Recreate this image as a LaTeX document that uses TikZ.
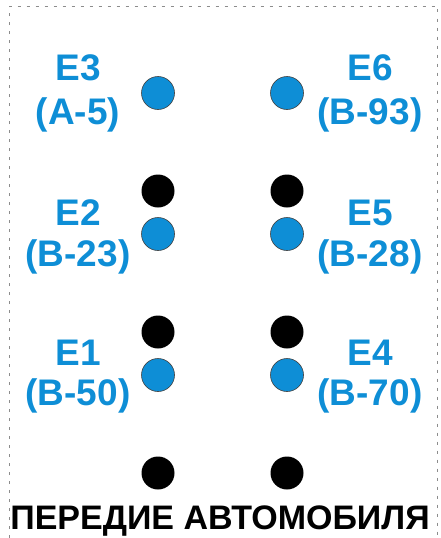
\documentclass[tikz,border=0pt]{standalone}
\usepackage{fontspec}
\setmainfont{Liberation Sans}
\definecolor{holeblue}{RGB}{14,142,214}
\tikzset{
  bluehole/.style={circle, fill=holeblue, draw=black!75, line width=0.6pt, minimum size=33pt, inner sep=0pt},
  blackhole/.style={circle, fill=black, minimum size=33pt, inner sep=0pt},
  holelabel/.style={text=holeblue, font=\fontsize{37}{40}\selectfont\bfseries, inner sep=0pt},
  fronttext/.style={font=\fontsize{34}{36}\selectfont\bfseries, inner sep=0pt}
}
\begin{document}
\begin{tikzpicture}[x=1pt,y=-1pt]
    \useasboundingbox (0,0) rectangle (441,538);
    % Frame
    \draw[black!45, dash pattern=on 3pt off 6pt] (9.5,538) -- (9.5,6) -- (437,6) -- (437,538);
    % Left column
    \node[bluehole] (h3) at (158,93) {};
    \node[blackhole] (k2) at (158,191) {};
    \node[bluehole] (h2) at (158,234) {};
    \node[blackhole] (k1) at (158,332) {};
    \node[bluehole] (h1) at (158,375) {};
    \node[blackhole] (k0) at (158,473) {};
    % Right column
    \node[bluehole] (h6) at (287,93) {};
    \node[blackhole] (k5) at (287,191) {};
    \node[bluehole] (h5) at (287,234) {};
    \node[blackhole] (k4) at (287,332) {};
    \node[bluehole] (h4) at (287,375) {};
    \node[blackhole] (k3) at (287,473) {};
    % Labels
    \node[holelabel] (e3) at (78,68) {E3};
    \node[holelabel] (e3code) at (78,115) {(A-5)};
    \node[holelabel] (e2) at (78,213) {E2};
    \node[holelabel] (e2code) at (78,257) {(B-23)};
    \node[holelabel] (e1) at (78,353) {E1};
    \node[holelabel] (e1code) at (78,396) {(B-50)};
    \node[holelabel] (e6) at (370,68) {E6};
    \node[holelabel] (e6code) at (370,115) {(B-93)};
    \node[holelabel] (e5) at (370,213) {E5};
    \node[holelabel] (e5code) at (370,257) {(B-28)};
    \node[holelabel] (e4) at (370,353) {E4};
    \node[holelabel] (e4code) at (370,396) {(B-70)};
    % Front of the car
    \node[fronttext] (front) at (220,521) {ПЕРЕДИЕ АВТОМОБИЛЯ};
\end{tikzpicture}
\end{document}
